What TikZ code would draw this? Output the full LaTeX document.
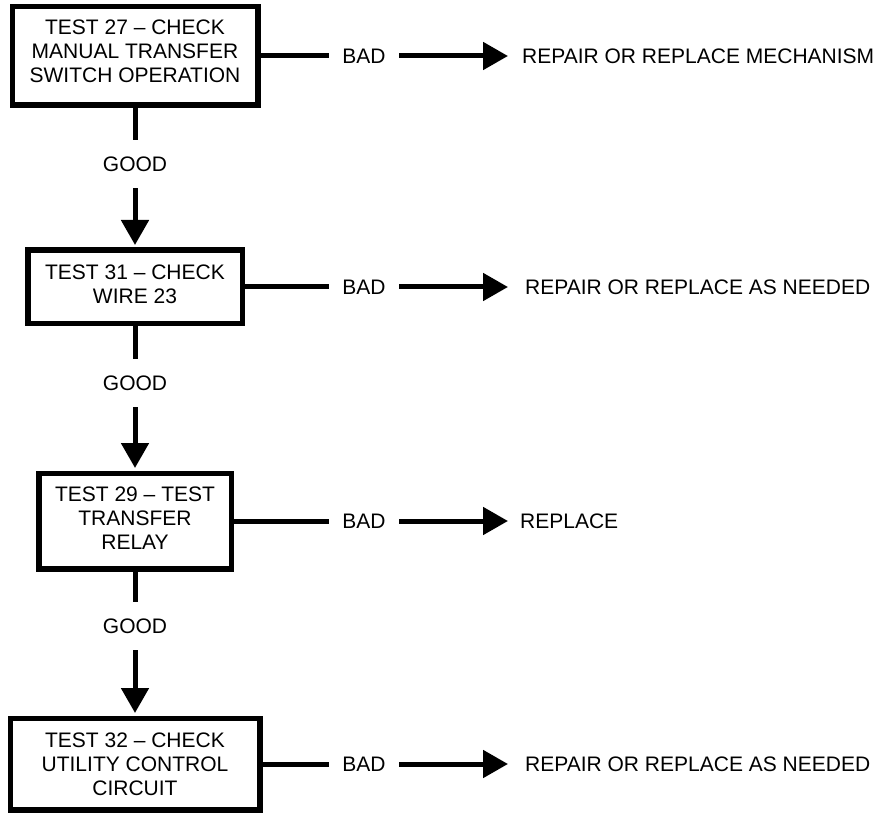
\documentclass[tikz,border=0pt]{standalone}
\usepackage{fontspec}
\setmainfont{Liberation Sans}
\usetikzlibrary{arrows.meta}
\begin{document}
\begin{tikzpicture}[x=1pt,y=-1pt,
  txt/.style={font=\fontsize{21}{24}\selectfont},
  testbox/.style={txt, draw, line width=5.5pt, align=center, inner sep=0pt, fill=white},
  lbl/.style={txt, inner sep=0pt},
  goodlbl/.style={lbl, minimum height=48pt},
  badlbl/.style={lbl, inner xsep=13.5pt},
  target/.style={lbl, anchor=west},
  conn/.style={line width=5pt},
  arr/.style={conn, -{Triangle[length=25pt,width=27pt]}}
]
\useasboundingbox (0,0) rectangle (879,813);

% boxes
\node[testbox, minimum width=245.5pt, minimum height=98.5pt, text depth=9pt] (t27) at (135,56)
  {TEST 27 – CHECK\\MANUAL TRANSFER\\SWITCH OPERATION};
\node[testbox, minimum width=214.5pt, minimum height=73.5pt, text depth=5pt] (t31) at (135,287)
  {TEST 31 – CHECK\\WIRE 23};
\node[testbox, minimum width=192.5pt, minimum height=95.5pt, text depth=5pt] (t29) at (135,521)
  {TEST 29 – TEST\\TRANSFER\\RELAY};
\node[testbox, minimum width=249.5pt, minimum height=91.5pt] (t32) at (135,764)
  {TEST 32 – CHECK\\UTILITY CONTROL\\CIRCUIT};

% GOOD labels
\node[goodlbl] (g1) at (135,164) {GOOD};
\node[goodlbl] (g2) at (135,383) {GOOD};
\node[goodlbl] (g3) at (135,626) {GOOD};

% BAD labels
\node[badlbl] (b1) at (364,56) {BAD};
\node[badlbl] (b2) at (364,287) {BAD};
\node[badlbl] (b3) at (364,521) {BAD};
\node[badlbl] (b4) at (364,764) {BAD};

% targets
\node[target] (r1) at (522,56) {REPAIR OR REPLACE MECHANISM};
\node[target] (r2) at (525,287) {REPAIR OR REPLACE AS NEEDED};
\node[target] (r3) at (520,521) {REPLACE};
\node[target] (r4) at (525,764) {REPAIR OR REPLACE AS NEEDED};

% vertical connectors
\draw[conn] (t27.south) -- (g1.north);
\draw[arr, shorten >=2.5pt] (g1.south) -- (t31.north);
\draw[conn] (t31.south) -- (g2.north);
\draw[arr, shorten >=2.5pt] (g2.south) -- (t29.north);
\draw[conn] (t29.south) -- (g3.north);
\draw[arr, shorten >=2.5pt] (g3.south) -- (t32.north);

% horizontal connectors
\draw[conn] (t27.east) -- (b1.west);
\draw[arr, shorten >=14pt] (b1.east) -- (r1.west);
\draw[conn] (t31.east) -- (b2.west);
\draw[arr, shorten >=17pt] (b2.east) -- (r2.west);
\draw[conn] (t29.east) -- (b3.west);
\draw[arr, shorten >=12pt] (b3.east) -- (r3.west);
\draw[conn] (t32.east) -- (b4.west);
\draw[arr, shorten >=17pt] (b4.east) -- (r4.west);
\end{tikzpicture}
\end{document}
